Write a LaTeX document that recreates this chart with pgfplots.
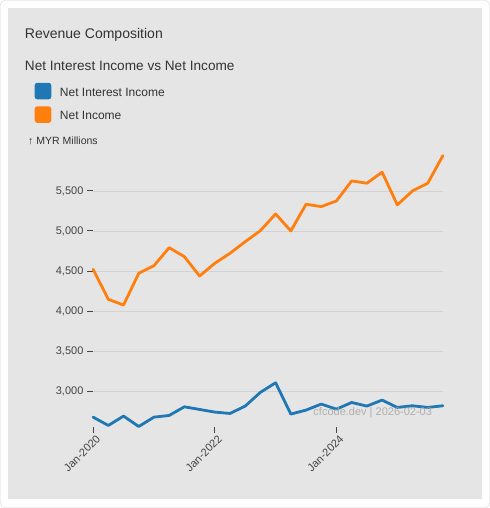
\documentclass[border=0pt]{standalone}
\usepackage{fontspec}
\setmainfont{Liberation Sans}
\usepackage{pgfplots}
\usepackage{pgfplotstable}
\pgfplotsset{compat=1.18}

\definecolor{panel}{HTML}{E5E5E5}
\definecolor{framec}{HTML}{D6D6D6}
\definecolor{gridc}{HTML}{D2D2D2}
\definecolor{txt}{HTML}{333333}
\definecolor{ticktxt}{HTML}{444444}
\definecolor{nii}{HTML}{1F77B4}
\definecolor{ni}{HTML}{FF7F0E}
\definecolor{wm}{HTML}{A8A8A8}

% quarterly, Jan-2020 .. Oct-2025 (MYR millions)
\pgfplotstableread{
q  nii   ni
0  2675  4521
1  2571  4146
2  2688  4075
3  2558  4471
4  2675  4566
5  2696  4791
6  2804  4679
7  2771  4437
8  2738  4596
9  2721  4721
10 2813  4866
11 2985  5004
12 3104  5212
13 2713  5000
14 2763  5333
15 2838  5304
16 2775  5375
17 2858  5625
18 2813  5596
19 2888  5734
20 2796  5325
21 2817  5500
22 2796  5596
23 2817  5941
}\revdata

\begin{document}
\begin{tikzpicture}[x=1pt,y=1pt]
\draw[framec, fill=white, rounded corners=5pt] (0.5,-0.5) rectangle (489.5,-507.5);
\fill[panel] (8,-8) rectangle (482,-499);

\node[anchor=base west, inner sep=0, text=txt, font=\fontsize{14}{16}\selectfont] at (25,-39) {Revenue Composition};
\node[anchor=base west, inner sep=0, text=txt, font=\fontsize{13.6}{16}\selectfont] at (25,-71) {Net Interest Income vs Net Income};

\fill[nii, rounded corners=2.5pt] (35,-83) rectangle (51.5,-99.5);
\fill[ni, rounded corners=2.5pt] (35,-106.5) rectangle (51.5,-123);
\node[anchor=base west, inner sep=0, text=txt, font=\fontsize{12}{14}\selectfont] at (60,-96.3) {Net Interest Income};
\node[anchor=base west, inner sep=0, text=txt, font=\fontsize{12}{14}\selectfont] at (60,-119.7) {Net Income};
\node[anchor=base west, inner sep=0, text=txt, font=\fontsize{10.5}{12}\selectfont] at (28.3,-144.7) {↑ MYR Millions};

\begin{axis}[
  at={(93.3pt,-426.3pt)}, anchor=south west,
  scale only axis, width=349.4pt, height=270.6pt,
  xmin=0, xmax=23, ymin=2558, ymax=5941,
  axis line style={draw=none},
  tick pos=left, tick align=outside, major tick length=6pt,
  tick style={color=ticktxt, line width=0.9pt},
  xtick={0,8,16}, xticklabels={Jan-2020,Jan-2022,Jan-2024},
  ytick={3000,3500,...,5500},
  ymajorgrids, grid style={gridc, line width=0.8pt},
  /pgf/number format/.cd, 1000 sep={,}, assume math mode=true, /pgfplots/.cd,
  yticklabel style={font=\fontsize{11}{13}\selectfont, text=ticktxt, inner sep=0pt, xshift=-3.5pt},
  xticklabel style={font=\fontsize{11}{13}\selectfont, text=ticktxt, rotate=45, anchor=east, inner sep=0pt, xshift=0.5pt, yshift=-7pt},
  clip=false,
]
\addplot[ni, line width=2.8pt, line join=round, line cap=round] table[x=q, y=ni] {\revdata};
\addplot[nii, line width=2.8pt, line join=round, line cap=round] table[x=q, y=nii] {\revdata};
\end{axis}

\node[anchor=base east, inner sep=0, text=wm, opacity=0.9, font=\fontsize{11}{13}\selectfont] at (432,-415) {cfcode.dev | 2026-02-03};
\end{tikzpicture}
\end{document}
